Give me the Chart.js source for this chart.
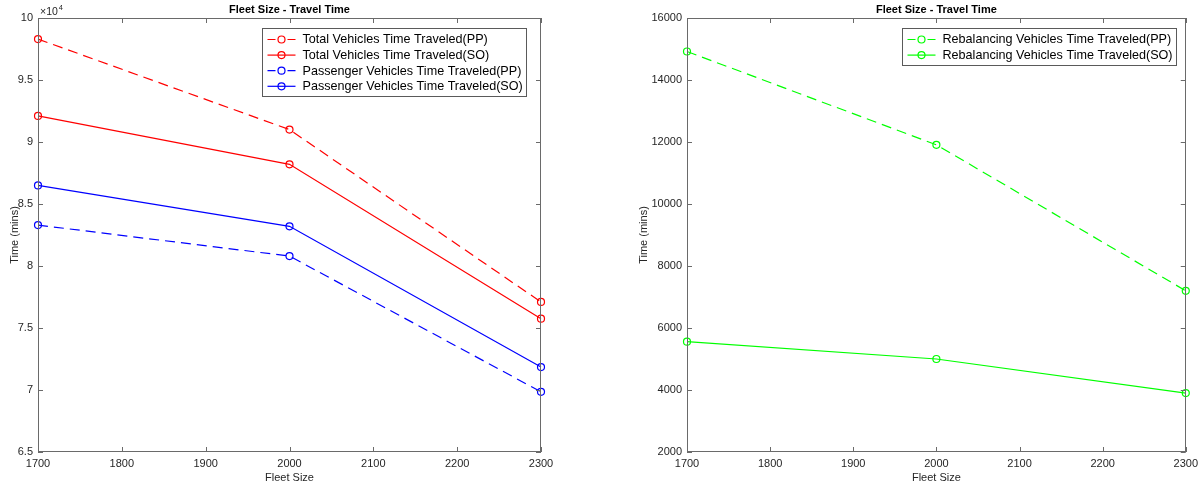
<!DOCTYPE html>
<html>
<head>
<meta charset="utf-8">
<script src="https://cdn.jsdelivr.net/npm/chart.js@4.4.0/dist/chart.umd.min.js"></script>
<style>
  html, body { margin: 0; padding: 0; background: #fff; }
  body { width: 1203px; height: 486px; position: relative; overflow: hidden; }
  .box { position: absolute; top: 0; height: 486px; }
  #leftBox { left: 0; width: 560px; }
  #rightBox { left: 620px; width: 583px; }
</style>
</head>
<body>
<div class="box" id="leftBox"><canvas id="timeChart"></canvas></div>
<div class="box" id="rightBox"><canvas id="rebalChart"></canvas></div>
<script>
// data (minutes)
const fleetSizes = [1700, 2000, 2300];
const totalPP = [98300, 91000, 77100];
const totalSO = [92100, 88200, 75750];
const passengerPP = [83300, 80800, 69850];
const passengerSO = [86500, 83200, 71850];
const rebalancingPP = [14920, 11910, 7200];
const rebalancingSO = [5560, 5000, 3900];

// tick labels
const fleetTicks = [1700, 1800, 1900, 2000, 2100, 2200, 2300];
const leftTimeTicks = [65000, 70000, 75000, 80000, 85000, 90000, 95000, 100000];
const rightTimeTicks = [2000, 4000, 6000, 8000, 10000, 12000, 14000, 16000];

const FONT = '"Liberation Sans", Arial, sans-serif';
const AXIS_COLOR = '#262626';

function series(label, values, color, dashed) {
    return {
        label: label,
        data: values.map((v, i) => ({ x: fleetSizes[i], y: v })),
        borderColor: color,
        borderWidth: 1.2,
        borderDash: dashed ? [10, 6] : [],
        pointStyle: 'circle',
        pointRadius: 3.5,
        pointBorderWidth: 1.2,
        pointBorderColor: color,
        pointBackgroundColor: 'rgba(0,0,0,0)',
        tension: 0,
        fill: false,
        clip: false
    };
}

// matlab style box, inward ticks, title, exponent and legend
const matlabFrame = {
    id: 'matlabFrame',
    afterDraw(chart, args, opts) {
        const { ctx, chartArea: a, scales } = chart;
        ctx.save();

        // box
        ctx.strokeStyle = '#6a6a6a';
        ctx.lineWidth = 1;
        ctx.strokeRect(Math.round(a.left) + 0.5, Math.round(a.top) + 0.5,
            Math.round(a.width) - 1, Math.round(a.height) - 1);

        // inward ticks on all four sides
        const tl = 5;
        ctx.beginPath();
        scales.x.ticks.forEach(t => {
            const px = Math.round(scales.x.getPixelForValue(t.value)) + 0.5;
            ctx.moveTo(px, a.bottom); ctx.lineTo(px, a.bottom - tl);
            ctx.moveTo(px, a.top); ctx.lineTo(px, a.top + tl);
        });
        scales.y.ticks.forEach(t => {
            const py = Math.round(scales.y.getPixelForValue(t.value)) + 0.5;
            ctx.moveTo(a.left, py); ctx.lineTo(a.left + tl, py);
            ctx.moveTo(a.right, py); ctx.lineTo(a.right - tl, py);
        });
        ctx.stroke();

        // title
        ctx.fillStyle = '#000';
        ctx.font = 'bold 11px ' + FONT;
        ctx.textAlign = 'center';
        ctx.textBaseline = 'middle';
        ctx.fillText(opts.title, (a.left + a.right) / 2, a.top - 8);

        // x10^4 exponent
        if (opts.exponent) {
            ctx.fillStyle = AXIS_COLOR;
            ctx.textAlign = 'left';
            ctx.textBaseline = 'alphabetic';
            ctx.font = '10.5px ' + FONT;
            ctx.fillText('\u00d710', a.left + 2, a.top - 3);
            const w = ctx.measureText('\u00d710').width;
            ctx.font = '7.5px ' + FONT;
            ctx.fillText(String(opts.exponent), a.left + 2 + w + 1, a.top - 8);
        }

        // legend
        const items = chart.data.datasets;
        ctx.font = '12.6px ' + FONT;
        const textW = Math.max(...items.map(d => ctx.measureText(d.label).width));
        const rowH = 15.6;
        const boxW = Math.round(40 + textW + 4);
        const boxH = Math.round(11 + rowH * (items.length - 1) + 10);
        const bx = Math.round(a.right - opts.legendRight - boxW) + 0.5;
        const by = Math.round(a.top + 10) + 0.5;
        ctx.fillStyle = '#fff';
        ctx.fillRect(bx, by, boxW, boxH);
        ctx.strokeStyle = '#5a5a5a';
        ctx.lineWidth = 1;
        ctx.setLineDash([]);
        ctx.strokeRect(bx, by, boxW, boxH);
        items.forEach((d, i) => {
            const y = by + 11 + rowH * i;
            ctx.strokeStyle = d.borderColor;
            ctx.lineWidth = 1.2;
            ctx.beginPath();
            if (d.borderDash.length) {
                ctx.moveTo(bx + 5, y); ctx.lineTo(bx + 13, y);
                ctx.moveTo(bx + 25, y); ctx.lineTo(bx + 33, y);
            } else {
                ctx.moveTo(bx + 5, y); ctx.lineTo(bx + 33, y);
            }
            ctx.stroke();
            ctx.beginPath();
            ctx.arc(bx + 19, y, 3.5, 0, Math.PI * 2);
            ctx.stroke();
            ctx.fillStyle = '#000';
            ctx.textAlign = 'left';
            ctx.textBaseline = 'middle';
            ctx.fillText(d.label, bx + 40, y + 0.5);
        });
        ctx.restore();
    }
};

function makeOptions(cfg) {
    const tickFont = { family: FONT, size: 11 };
    return {
        responsive: true,
        maintainAspectRatio: false,
        animation: false,
        layout: { padding: { top: 18, right: cfg.rightPad, left: 0, bottom: 0 } },
        plugins: {
            legend: { display: false },
            tooltip: { enabled: false },
            matlabFrame: { title: 'Fleet Size - Travel Time', exponent: cfg.exponent, legendRight: cfg.legendRight }
        },
        scales: {
            x: {
                type: 'linear',
                min: 1700,
                max: 2300,
                afterBuildTicks: axis => { axis.ticks = fleetTicks.map(v => ({ value: v })); },
                afterFit: axis => { axis.height = 34; },
                grid: { display: false, drawTicks: false },
                border: { display: false },
                ticks: { padding: 5, color: AXIS_COLOR, font: tickFont, maxRotation: 0, autoSkip: false,
                    callback: v => String(v) },
                title: { display: true, text: 'Fleet Size', color: AXIS_COLOR, font: tickFont,
                    padding: { top: 0, bottom: 1 } }
            },
            y: {
                type: 'linear',
                min: cfg.yTicks[0],
                max: cfg.yTicks[cfg.yTicks.length - 1],
                afterBuildTicks: axis => { axis.ticks = cfg.yTicks.map(v => ({ value: v })); },
                afterFit: axis => { axis.width = cfg.yWidth; },
                grid: { display: false, drawTicks: false },
                border: { display: false },
                ticks: { padding: 5, color: AXIS_COLOR, font: tickFont, autoSkip: false,
                    callback: cfg.yLabel },
                title: { display: true, text: 'Time (mins)', color: AXIS_COLOR, font: tickFont,
                    padding: { top: cfg.yTitlePad, bottom: 0 } }
            }
        }
    };
}

document.addEventListener('DOMContentLoaded', () => {
    new Chart(document.getElementById('timeChart').getContext('2d'), {
        type: 'line',
        data: {
            datasets: [
                series('Total Vehicles Time Traveled(PP)', totalPP, '#ff0000', true),
                series('Total Vehicles Time Traveled(SO)', totalSO, '#ff0000', false),
                series('Passenger Vehicles Time Traveled(PP)', passengerPP, '#0000ff', true),
                series('Passenger Vehicles Time Traveled(SO)', passengerSO, '#0000ff', false)
            ]
        },
        options: makeOptions({
            rightPad: 19, yWidth: 38, yTitlePad: 8, exponent: 4, legendRight: 15,
            yTicks: leftTimeTicks, yLabel: v => String(v / 10000)
        }),
        plugins: [matlabFrame]
    });

    new Chart(document.getElementById('rebalChart').getContext('2d'), {
        type: 'line',
        data: {
            datasets: [
                series('Rebalancing Vehicles Time Traveled(PP)', rebalancingPP, '#00ff00', true),
                series('Rebalancing Vehicles Time Traveled(SO)', rebalancingSO, '#00ff00', false)
            ]
        },
        options: makeOptions({
            rightPad: 13, yWidth: 67, yTitlePad: 17, exponent: null, legendRight: 10,
            yTicks: rightTimeTicks, yLabel: v => String(v)
        }),
        plugins: [matlabFrame]
    });
});
</script>
</body>
</html>
